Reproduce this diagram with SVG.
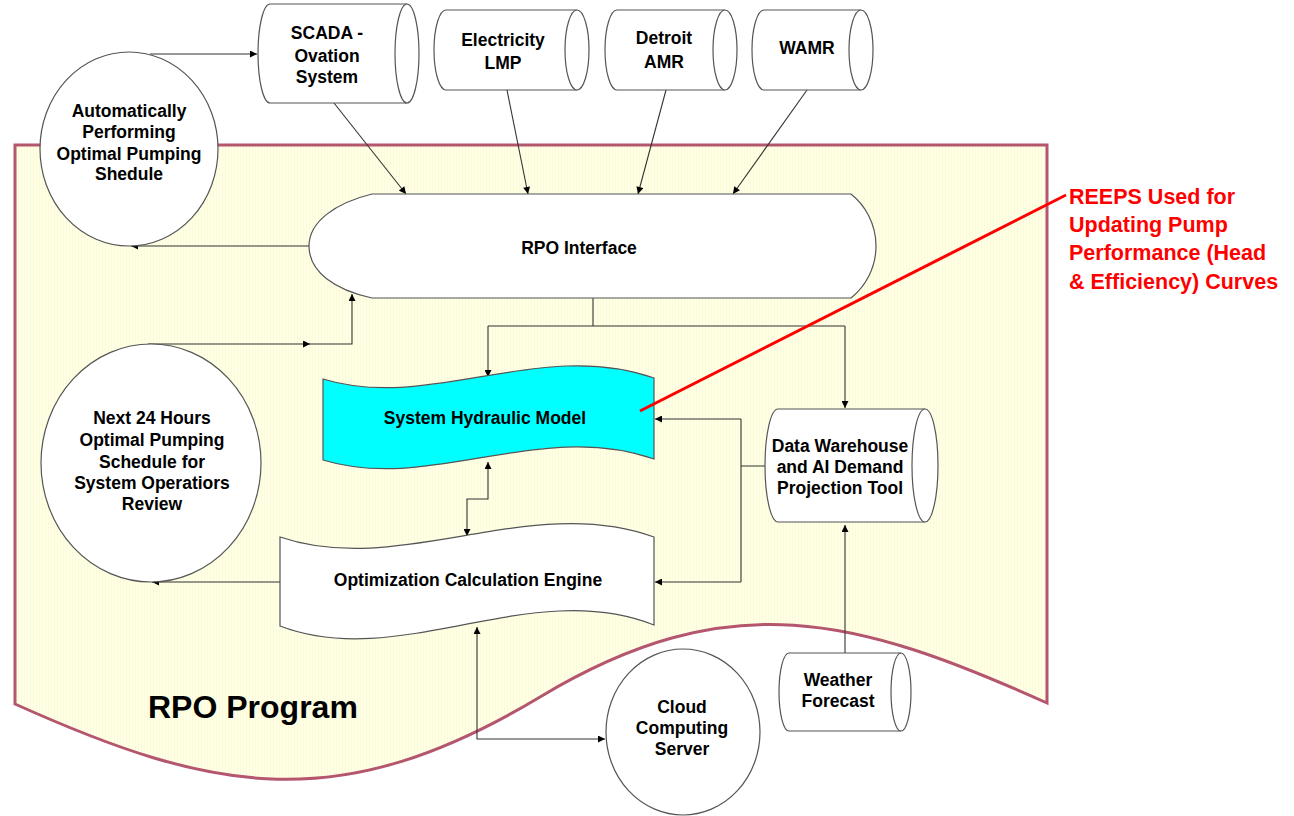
<svg xmlns="http://www.w3.org/2000/svg" width="1294" height="816" viewBox="0 0 1294 816">
<style>
.t{font-family:"Liberation Sans",Arial,sans-serif;font-weight:bold;font-size:17.5px;fill:#000;text-anchor:middle}
.shape{fill:#fff;stroke:#555;stroke-width:1.2}
.cn{fill:none;stroke:#333;stroke-width:1.1}
.red{font-family:"Liberation Sans",Arial,sans-serif;font-weight:bold;font-size:21.5px;fill:#f00}
</style>
<defs>
<pattern id="stripes" width="3" height="10" patternUnits="userSpaceOnUse">
<rect width="3" height="10" fill="#ffffe3"/>
<rect width="1" height="10" fill="#fbfadc"/>
</pattern>
<marker id="ah" viewBox="0 0 10 10" refX="10" refY="5" markerWidth="9" markerHeight="7" markerUnits="userSpaceOnUse" orient="auto-start-reverse">
<path d="M0,0 L10,5 L0,10 z" fill="#000"/>
</marker>
</defs>
<rect width="1294" height="816" fill="#fff"/>

<g id="rpo-program">
<path d="M15,704 V145 H1047 V703 C857,617.5 730,583 540,697 C340,817 215,794 15,704 Z" fill="url(#stripes)" stroke="#b4566e" stroke-width="3"/>
<text x="148" y="718" style="font-family:'Liberation Sans',Arial,sans-serif;font-weight:bold;font-size:32px;fill:#000">RPO Program</text>
</g>

<g id="connectors">
<path class="cn" d="M150,54 H257" marker-end="url(#ah)"/>
<path class="cn" d="M334,103 L406,194" marker-end="url(#ah)"/>
<path class="cn" d="M507,90 L528,194" marker-end="url(#ah)"/>
<path class="cn" d="M666,90 L638,194" marker-end="url(#ah)"/>
<path class="cn" d="M807,90 L733,194" marker-end="url(#ah)"/>
<path class="cn" d="M309,246 H131" marker-end="url(#ah)"/>
<path class="cn" d="M148,344 H310" marker-end="url(#ah)"/>
<path class="cn" d="M308,344 H352 V294" marker-end="url(#ah)"/>
<path class="cn" d="M593,298 V326 M488,326 H845"/>
<path class="cn" d="M488,326 V377" marker-end="url(#ah)"/>
<path class="cn" d="M845,326 V408" marker-end="url(#ah)"/>
<path class="cn" d="M488,462 V499 H467 V536" marker-start="url(#ah)" marker-end="url(#ah)"/>
<path class="cn" d="M765,466 H741 M741,419 V582"/>
<path class="cn" d="M741,419 H655" marker-end="url(#ah)"/>
<path class="cn" d="M741,582 H655" marker-end="url(#ah)"/>
<path class="cn" d="M845,653 V525" marker-end="url(#ah)"/>
<path class="cn" d="M477,627 V739 H605" marker-start="url(#ah)" marker-end="url(#ah)"/>
<path class="cn" d="M280,582 H152" marker-end="url(#ah)"/>
</g>

<g id="auto-circle">
<ellipse class="shape" cx="129" cy="149" rx="89" ry="97"/>
<text class="t" x="129" y="117">Automatically</text>
<text class="t" x="129" y="138">Performing</text>
<text class="t" x="129" y="160">Optimal Pumping</text>
<text class="t" x="129" y="180">Shedule</text>
</g>

<g id="scada">
<path class="shape" d="M270,4 H407 A12,49.5 0 0 1 407,103 H270 A12,49.5 0 0 1 270,4 Z"/>
<path class="shape" fill="none" d="M407,4 A12,49.5 0 0 0 407,103"/>
<text class="t" x="327" y="39">SCADA -</text>
<text class="t" x="327" y="62">Ovation</text>
<text class="t" x="327" y="83">System</text>
</g>

<g id="electricity">
<path class="shape" d="M446,10 H577 A12,40 0 0 1 577,90 H446 A12,40 0 0 1 446,10 Z"/>
<path class="shape" d="M577,10 A12,40 0 0 0 577,90"/>
<text class="t" x="503" y="46">Electricity</text>
<text class="t" x="503" y="69">LMP</text>
</g>

<g id="detroit">
<path class="shape" d="M617,10 H725 A12,40 0 0 1 725,90 H617 A12,40 0 0 1 617,10 Z"/>
<path class="shape" d="M725,10 A12,40 0 0 0 725,90"/>
<text class="t" x="664" y="44">Detroit</text>
<text class="t" x="664" y="68">AMR</text>
</g>

<g id="wamr">
<path class="shape" d="M764,10 H861 A12,40 0 0 1 861,90 H764 A12,40 0 0 1 764,10 Z"/>
<path class="shape" d="M861,10 A12,40 0 0 0 861,90"/>
<text class="t" x="807" y="54">WAMR</text>
</g>

<g id="rpo-interface">
<path class="shape" d="M372,194 H851 A66.6,66.6 0 0 1 851,298 H372 C335,290 309,272 309,246 C309,222 335,203 372,194 Z"/>
<text class="t" x="579" y="254">RPO Interface</text>
</g>

<g id="hydraulic">
<path class="shape" style="fill:#00ffff" d="M323,379 C430,412 540,338 654,378 V459 C540,419 430,493 323,460 Z"/>
<text class="t" x="485" y="424">System Hydraulic Model</text>
</g>

<g id="optimization">
<path class="shape" d="M280,537 C400,578 530,492 654,537 V625 C530,576 400,672 280,626 Z"/>
<text class="t" x="468" y="586">Optimization Calculation Engine</text>
</g>

<g id="data-warehouse">
<path class="shape" d="M778,409 H925 A13,56.5 0 0 1 925,522 H778 A13,56.5 0 0 1 778,409 Z"/>
<path class="shape" d="M925,409 A13,56.5 0 0 0 925,522"/>
<text class="t" x="840" y="452">Data Warehouse</text>
<text class="t" x="840" y="473">and AI Demand</text>
<text class="t" x="840" y="494">Projection Tool</text>
</g>

<g id="next24">
<ellipse class="shape" cx="151" cy="463" rx="110" ry="119"/>
<text class="t" x="152" y="424">Next 24 Hours</text>
<text class="t" x="152" y="446">Optimal Pumping</text>
<text class="t" x="152" y="468">Schedule for</text>
<text class="t" x="152" y="489">System Operatiors</text>
<text class="t" x="152" y="510">Review</text>
</g>

<g id="weather">
<path class="shape" d="M789,653 H901 A10,39 0 0 1 901,731 H789 A10,39 0 0 1 789,653 Z"/>
<path class="shape" d="M901,653 A10,39 0 0 0 901,731"/>
<text class="t" x="838" y="686">Weather</text>
<text class="t" x="838" y="707">Forecast</text>
</g>

<g id="cloud">
<ellipse class="shape" cx="683" cy="732" rx="77" ry="83"/>
<text class="t" x="682" y="713">Cloud</text>
<text class="t" x="682" y="734">Computing</text>
<text class="t" x="682" y="755">Server</text>
</g>

<g id="reeps-note">
<path d="M640,411 L1066,195" stroke="#f00" stroke-width="3" fill="none"/>
<text class="red" x="1069" y="204">REEPS Used for</text>
<text class="red" x="1069" y="232">Updating Pump</text>
<text class="red" x="1069" y="260">Performance (Head</text>
<text class="red" x="1069" y="289">&amp; Efficiency) Curves</text>
</g>
</svg>
